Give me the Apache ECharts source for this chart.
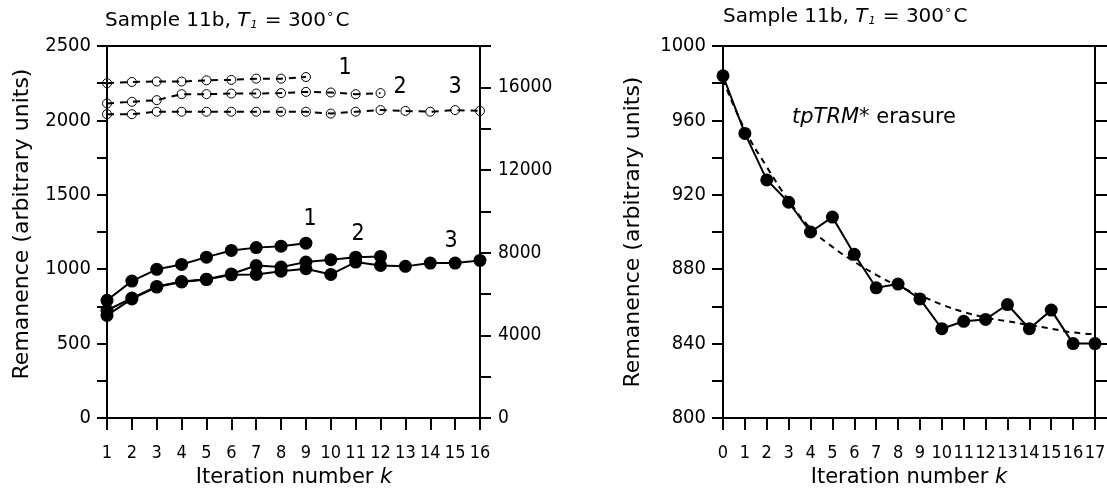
<!DOCTYPE html>
<html><head><meta charset="utf-8">
<script src="https://cdn.jsdelivr.net/npm/echarts@6/dist/echarts.min.js"></script>
<style>html,body{margin:0;padding:0;background:#fff}#c{width:1107px;height:493px}</style>
</head><body><div id="c"></div>
<script>
// ---------- data ----------
const iterLeft = [1,2,3,4,5,6,7,8,9,10,11,12,13,14,15,16];
// open circles, dashed (right axis, 0-18000)
const dashed1 = [16200,16260,16280,16280,16340,16360,16420,16420,16500];
const dashed2 = [15220,15300,15380,15670,15670,15700,15700,15720,15780,15750,15670,15720];
const dashed3 = [14700,14700,14820,14820,14820,14820,14820,14820,14820,14730,14820,14900,14860,14820,14900,14860];
// filled circles, solid (left axis, 0-2500)
const solid1 = [791,920,999,1032,1081,1126,1145,1155,1175];
const solid2 = [724,806,884,917,933,968,1025,1014,1048,1064,1081,1086];
const solid3 = [690,800,880,914,930,962,965,987,1003,965,1048,1025,1019,1041,1041,1059];

const iterRight = [0,1,2,3,4,5,6,7,8,9,10,11,12,13,14,15,16,17];
const tpTRM = [984,953,928,916,900,908,888,870,872,864,848,852,853,861,848,858,840,840];
const tpFit = [982,955,935,917,902,892,884,877,871,866,861,857,854,852,850,848,846,845];

const leftYLabels = [0,500,1000,1500,2000,2500];
const rightYLabels = [0,4000,8000,12000,16000];
const rYLabels = [800,840,880,920,960,1000];

const seriesNames = ['1','2','3'];

// ---------- helpers ----------
const FONT = '"DejaVu Sans Condensed", "DejaVu Sans", sans-serif';
const FONTW = '"DejaVu Sans", sans-serif';
const FONTN = '"Liberation Sans Narrow", "DejaVu Sans Condensed", sans-serif';
const pairs = (xs, ys) => ys.map((v, i) => [xs[i], v]);
const BLACK = '#000';
const axisLine = {show: true, onZero: false, lineStyle: {color: BLACK, width: 2}};
const tickOut = (len) => ({show: true, inside: false, length: len, lineStyle: {color: BLACK, width: 2}});
const noTick = {show: false};
const noLabel = {show: false};
const lbl = (list, margin, size) => ({
  show: true, margin: margin, color: BLACK, fontFamily: FONT, fontSize: size,
  showMinLabel: true, showMaxLabel: true,
  formatter: v => (list.indexOf(v) >= 0 ? String(v) : '')
});
const xLbl = {show: true, margin: 26, color: BLACK, fontFamily: FONTN, fontSize: 18, showMinLabel: true, showMaxLabel: true};

function openSeries(data, name) {
  return {
    type: 'line', name: name, xAxisIndex: 0, yAxisIndex: 1,
    data: pairs(iterLeft, data),
    symbol: 'circle', symbolSize: 9,
    itemStyle: {color: 'rgba(255,255,255,0)', borderColor: BLACK, borderWidth: 1},
    lineStyle: {color: BLACK, width: 2, type: [7, 6]},
    z: 3, silent: true
  };
}
function solidSeries(data, name) {
  return {
    type: 'line', name: name, xAxisIndex: 0, yAxisIndex: 0,
    data: pairs(iterLeft, data),
    symbol: 'circle', symbolSize: 13,
    itemStyle: {color: BLACK},
    lineStyle: {color: BLACK, width: 2},
    z: 4, silent: true
  };
}

function txt(x, y, text, size, opts) {
  opts = opts || {};
  return {
    type: 'text', x: x, y: y, rotation: opts.rotation || 0, silent: true,
    style: {
      text: text, fill: BLACK, fontFamily: opts.family || FONTW, fontSize: size,
      align: opts.align || 'center', verticalAlign: 'middle',
      rich: opts.rich
    }
  };
}
const titleRich = {
  i: {fontFamily: FONTW, fontSize: 20, fontStyle: 'italic', fill: BLACK},
  s: {fontFamily: FONTW, fontSize: 11, fontStyle: 'italic', fill: BLACK, verticalAlign: 'bottom', padding: [0, 1, 0, 1]},
  d: {fontFamily: FONTW, fontSize: 13, fill: BLACK, verticalAlign: 'top', padding: [0, 2, 0, 1]}
};
const titleText = 'Sample 11b, {i|T}{s|1} = 300{d|°}C';
const kRich = {k: {fontFamily: FONTW, fontSize: 21, fontStyle: 'italic', fill: BLACK}};

const option = {
  animation: false,
  backgroundColor: '#fff',
  grid: [
    {left: 107, top: 46, width: 373, height: 372, containLabel: false, outerBoundsMode: 'none'},
    {left: 723, top: 46, width: 372, height: 372, containLabel: false, outerBoundsMode: 'none'}
  ],
  xAxis: [
    {gridIndex: 0, type: 'value', position: 'bottom', min: 1, max: 16, interval: 1,
     axisLine: axisLine, axisTick: tickOut(12), splitLine: {show: false}, axisLabel: xLbl},
    {gridIndex: 0, type: 'value', position: 'top', min: 1, max: 16, interval: 1,
     axisLine: axisLine, axisTick: noTick, axisLabel: noLabel, splitLine: {show: false}},
    {gridIndex: 1, type: 'value', position: 'bottom', min: 0, max: 17, interval: 1,
     axisLine: axisLine, axisTick: tickOut(12), splitLine: {show: false}, axisLabel: xLbl},
    {gridIndex: 1, type: 'value', position: 'top', min: 0, max: 17, interval: 1,
     axisLine: axisLine, axisTick: noTick, axisLabel: noLabel, splitLine: {show: false}}
  ],
  yAxis: [
    {gridIndex: 0, type: 'value', position: 'left', min: 0, max: 2500, interval: 250,
     axisLine: axisLine, axisTick: tickOut(10), splitLine: {show: false},
     axisLabel: lbl(leftYLabels, 16, 20)},
    {gridIndex: 0, type: 'value', position: 'right', min: 0, max: 18000, interval: 2000,
     axisLine: axisLine, axisTick: tickOut(11), splitLine: {show: false},
     axisLabel: lbl(rightYLabels, 18, 19)},
    {gridIndex: 1, type: 'value', position: 'left', min: 800, max: 1000, interval: 20,
     axisLine: axisLine, axisTick: tickOut(11), splitLine: {show: false},
     axisLabel: lbl(rYLabels, 17, 20)},
    {gridIndex: 1, type: 'value', position: 'right', min: 800, max: 1000, interval: 20,
     axisLine: axisLine, axisTick: tickOut(12), splitLine: {show: false},
     axisLabel: noLabel}
  ],
  series: [
    openSeries(dashed1, 'open ' + seriesNames[0]),
    openSeries(dashed2, 'open ' + seriesNames[1]),
    openSeries(dashed3, 'open ' + seriesNames[2]),
    solidSeries(solid1, 'solid ' + seriesNames[0]),
    solidSeries(solid2, 'solid ' + seriesNames[1]),
    solidSeries(solid3, 'solid ' + seriesNames[2]),
    {type: 'line', name: 'fit', xAxisIndex: 2, yAxisIndex: 2,
     data: pairs(iterRight, tpFit), smooth: true, showSymbol: false, symbol: 'none',
     lineStyle: {color: BLACK, width: 2, type: [6, 5]}, z: 2, silent: true},
    {type: 'line', name: 'tpTRM', xAxisIndex: 2, yAxisIndex: 2,
     data: pairs(iterRight, tpTRM), symbol: 'circle', symbolSize: 13,
     itemStyle: {color: BLACK}, lineStyle: {color: BLACK, width: 2}, z: 4, silent: true}
  ],
  graphic: [
    txt(105, 21, titleText, 20, {align: 'left', rich: titleRich}),
    txt(723, 17, titleText, 20, {align: 'left', rich: titleRich}),
    txt(22, 224, 'Remanence (arbitrary units)', 22, {rotation: Math.PI / 2}),
    txt(633, 232, 'Remanence (arbitrary units)', 22, {rotation: Math.PI / 2}),
    txt(294, 478, 'Iteration number {k|k}', 21, {rich: kRich}),
    txt(909, 478, 'Iteration number {k|k}', 21, {rich: kRich}),
    txt(345, 68, seriesNames[0], 23, {family: FONT}),
    txt(400, 87, seriesNames[1], 23, {family: FONT}),
    txt(455, 87, seriesNames[2], 23, {family: FONT}),
    txt(310, 219, seriesNames[0], 23, {family: FONT}),
    txt(358, 234, seriesNames[1], 23, {family: FONT}),
    txt(451, 241, seriesNames[2], 23, {family: FONT}),
    txt(792, 118, '{i|tpTRM}* erasure', 21, {align: 'left', rich: {i: {fontFamily: FONTW, fontSize: 21, fontStyle: 'italic', fill: BLACK}}})
  ]
};
const chart = echarts.init(document.getElementById('c'), null, {renderer: 'canvas'});
chart.setOption(option);
</script></body></html>
